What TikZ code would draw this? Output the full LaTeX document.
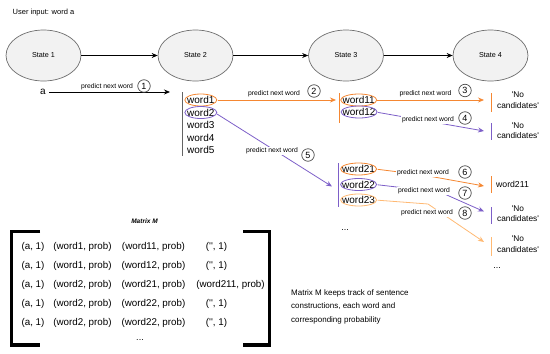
\documentclass[tikz,border=0pt]{standalone}
\usepackage{fontspec}
\setmainfont{Liberation Sans}[Ligatures=TeXOff]
\usetikzlibrary{arrows.meta,shapes.geometric}
\definecolor{orangeC}{RGB}{245,135,50}
\definecolor{purpleC}{RGB}{125,95,200}
\definecolor{peachC}{RGB}{255,185,115}
\definecolor{stateF}{RGB}{242,242,242}
\definecolor{stateD}{RGB}{110,110,110}
\definecolor{listG}{RGB}{100,100,100}
\begin{document}
\begin{tikzpicture}[x=1pt,y=-1pt,
  state/.style={ellipse, draw=stateD, fill=stateF, line width=0.7pt, minimum width=75pt, minimum height=51pt, inner sep=0pt, font=\fontsize{7.2}{8}\selectfont},
  lbl/.style={font=\fontsize{6.8}{8}\selectfont, inner sep=1pt},
  lblw/.style={lbl, fill=white},
  num/.style={circle, draw=black!70, line width=0.7pt, minimum size=12.5pt, inner sep=0pt, font=\fontsize{9}{10}\selectfont},
  wrd/.style={inner sep=0pt, anchor=west, font=\fontsize{10}{12}\selectfont},
  cand/.style={align=center, font=\fontsize{8.3}{10.5}\selectfont, inner sep=0pt},
  mrow/.style={font=\fontsize{9.8}{12}\selectfont, inner sep=0pt},
  note/.style={anchor=base west, font=\fontsize{8}{10}\selectfont, inner sep=0pt},
  arr/.style={-{Stealth[length=6pt,width=5pt]}, line width=0.8pt},
  vline/.style={line width=0.9pt},
  wring/.style={line width=0.8pt},
]
\useasboundingbox (0,0) rectangle (550,354);

% top text
\node[anchor=west, inner sep=0pt, font=\fontsize{7.5}{9}\selectfont] (ui) at (12.5,13) {User input: word a};

% states
\node[state] (s1) at (43.5,55.5) {State 1};
\node[state] (s2) at (195.5,55.5) {State 2};
\node[state] (s3) at (346,55.5) {State 3};
\node[state] (s4) at (490.5,55.5) {State 4};
\draw[arr] (s1) -- (s2);
\draw[arr] (s2) -- (s3);
\draw[arr] (s3) -- (s4);

% step 1
\node[inner sep=0pt, font=\fontsize{10}{12}\selectfont] (a) at (43,91.5) {a};
\coordinate (e1) at (170,92);
\draw[arr, shorten <=3.5pt] (a.east |- e1) -- (e1);
\node[lbl, anchor=south] (l1) at (107,91) {predict next word};
\node[num] (c1) at (144,86) {1};

% list 1
\draw[vline, listG] (182,92) -- (182,156);
\node[wrd] (w1) at (187,100) {word1};
\node[wrd] (w2) at (187,112.5) {word2};
\node[wrd] (w3) at (187,125) {word3};
\node[wrd] (w4) at (187,137.5) {word4};
\node[wrd] (w5) at (187,150) {word5};
\draw[wring, orangeC] (w1.center) ellipse [x radius=16, y radius=6];
\draw[wring, purpleC] (w2.center) ellipse [x radius=16, y radius=6];

% step 2
\coordinate (e2) at (336,100);
\draw[arr, orangeC, shorten <=3pt] (w1.east) -- (e2);
\node[lbl, anchor=south] (l2) at (274,98.5) {predict next word};
\node[num] (c2) at (314,91) {2};

% list 2
\draw[vline, orangeC] (339,93) -- (339,123);
\node[wrd] (w11) at (342.5,100) {word11};
\node[wrd] (w12) at (342.5,112) {word12};
\draw[wring, orangeC] (w11.center) ellipse [x radius=18, y radius=6];
\draw[wring, purpleC] (w12.center) ellipse [x radius=18, y radius=6];

% step 3
\coordinate (e3) at (484,100);
\draw[arr, orangeC, shorten <=2.5pt] (w11.east) -- (e3);
\node[lbl, anchor=south] (l3) at (425.5,98.5) {predict next word};
\node[num] (c3) at (465,90.5) {3};
\draw[vline, orangeC] (491,93) -- (491,112);
\node[cand] (t3) at (518,100) {'No\\candidates'};

% step 4
\coordinate (e4) at (484,131);
\draw[arr, purpleC, shorten <=2.5pt] (w12.east) -- (e4);
\node[lblw] (l4) at (428,119.5) {predict next word};
\node[num] (c4) at (465,118) {4};
\draw[vline, purpleC] (491,123) -- (491,140);
\node[cand] (t4) at (518,130.5) {'No\\candidates'};

% step 5
\coordinate (e5) at (332,186.5);
\draw[arr, purpleC, shorten <=3pt] (w2.east) -- (e5);
\node[lblw] (l5) at (272,151) {predict next word};
\node[num] (c5) at (308,155) {5};

% list 3
\draw[vline, purpleC] (338,163) -- (338,207);
\node[wrd] (w21) at (342,169) {word21};
\node[wrd] (w22) at (342,184.5) {word22};
\node[wrd] (w23) at (342,200) {word23};
\draw[wring, orangeC] (w21.center) ellipse [x radius=18, y radius=6];
\draw[wring, purpleC] (w22.center) ellipse [x radius=18, y radius=6];
\draw[wring, peachC] (w23.center) ellipse [x radius=18, y radius=6];
\node[inner sep=0pt, font=\fontsize{9}{10}\selectfont] (d3) at (345,230) {...};

% step 6
\coordinate (e6) at (484,186);
\draw[arr, orangeC, shorten <=2.5pt] (w21.east) -- (423,175) -- (e6);
\node[lblw] (l6) at (423,172.5) {predict next word};
\node[num] (c6) at (465,172) {6};
\draw[vline, orangeC] (491,176) -- (491,193);
\node[inner sep=0pt, font=\fontsize{8.7}{10}\selectfont] (t6) at (512.5,184) {word211};

% step 7
\coordinate (e7) at (484,211.5);
\draw[arr, purpleC, shorten <=2.5pt] (w22.east) -- (440,192) -- (e7);
\node[lblw] (l7) at (424,191) {predict next word};
\node[num] (c7) at (465,193) {7};
\draw[vline, purpleC] (491,207) -- (491,224);
\node[cand] (t7) at (518,213.5) {'No\\candidates'};

% step 8
\coordinate (e8) at (484,242);
\draw[arr, peachC, shorten <=2.5pt] (w23.east) -- (428,204) -- (e8);
\node[lblw] (l8) at (427,213) {predict next word};
\node[num] (c8) at (465,213) {8};
\draw[vline, peachC] (491,237) -- (491,256);
\node[cand] (t8) at (518,244) {'No\\candidates'};
\node[inner sep=0pt, font=\fontsize{9}{10}\selectfont] (d4) at (497,268) {...};

% matrix
\node[inner sep=0pt, font=\fontsize{6.5}{8}\selectfont\bfseries\itshape] (mt) at (144.5,221) {Matrix M};
\draw[line width=3.2pt] (40,231.7) -- (11.7,231.7) -- (11.7,345) -- (40,345);
\draw[line width=3.2pt] (243.3,231.7) -- (269.3,231.7) -- (269.3,345) -- (243.3,345);

\node[mrow] (m11) at (33,247) {(a, 1)};
\node[mrow] (m12) at (82.5,247) {(word1, prob)};
\node[mrow] (m13) at (153.5,247) {(word11, prob)};
\node[mrow] (m14) at (216.5,247) {('', 1)};

\node[mrow] (m21) at (33,266) {(a, 1)};
\node[mrow] (m22) at (82.5,266) {(word1, prob)};
\node[mrow] (m23) at (153.5,266) {(word12, prob)};
\node[mrow] (m24) at (216.5,266) {('', 1)};

\node[mrow] (m31) at (33,285) {(a, 1)};
\node[mrow] (m32) at (82.5,285) {(word2, prob)};
\node[mrow] (m33) at (153.5,285) {(word21, prob)};
\node[mrow] (m34) at (230.5,285) {(word211, prob)};

\node[mrow] (m41) at (33,304) {(a, 1)};
\node[mrow] (m42) at (82.5,304) {(word2, prob)};
\node[mrow] (m43) at (153.5,304) {(word22, prob)};
\node[mrow] (m44) at (216.5,304) {('', 1)};

\node[mrow] (m51) at (33,323) {(a, 1)};
\node[mrow] (m52) at (82.5,323) {(word2, prob)};
\node[mrow] (m53) at (153.5,323) {(word22, prob)};
\node[mrow] (m54) at (216.5,323) {('', 1)};

\node[inner sep=0pt, font=\fontsize{9}{10}\selectfont] (md) at (140,340.5) {...};

% note
\node[note] (n1) at (291,295) {Matrix M keeps track of sentence};
\node[note] (n2) at (291,308.5) {constructions, each word and};
\node[note] (n3) at (291,322) {corresponding probability};
\end{tikzpicture}
\end{document}
